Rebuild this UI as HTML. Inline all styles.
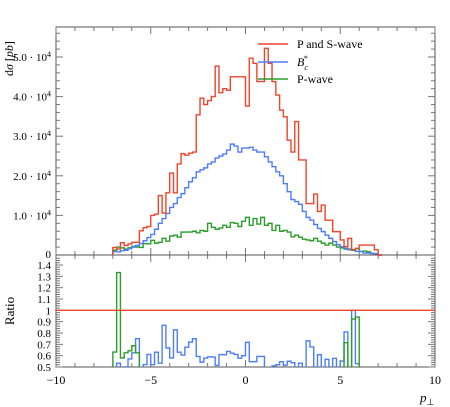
<!DOCTYPE html>
<html><head><meta charset="utf-8">
<style>
body{margin:0;background:#fff;width:450px;height:407px;overflow:hidden}
svg{display:block;font-family:"Liberation Serif",serif}
</style></head><body>
<svg id="c" width="450" height="407"></svg>
<script>
const bins=[-7.0,-6.8,-6.6,-6.4,-6.2,-6.0,-5.8,-5.6,-5.4,-5.2,-5.0,-4.8,-4.6,-4.4,-4.2,-4.0,-3.8,-3.6,-3.4,-3.2,-3.0,-2.8,-2.6,-2.4,-2.2,-2.0,-1.8,-1.6,-1.4,-1.2,-1.0,-0.8,-0.6,-0.4,-0.2,0.0,0.2,0.4,0.6,0.8,1.0,1.2,1.4,1.6,1.8,2.0,2.2,2.4,2.6,2.8,3.0,3.2,3.4,3.6,3.8,4.0,4.2,4.4,4.6,4.8,5.0,5.2,5.4,5.6,5.8,6.0,6.2,6.4,6.6,6.8,7.0];
const binWidth=0.2;
const redVals=[1.9,1.5,3.1,2.4,2.8,3.2,3.2,6.1,6.9,7.2,10,10.3,15,10.6,15.7,20.7,15.7,23,25.6,25.2,25.7,26,35.4,39.6,38,39,40,47.7,41,42,41.6,45,45,45,45,37.6,49.7,48.4,43.8,43.8,52.2,48.4,43.8,40.4,36.6,34.9,29,26,33.7,24,24,13,13,15.4,11,12.6,8.8,8.8,5.9,5.9,3.8,2.1,4.2,1.3,1.7,2.5,2.5,2.5,2.5,1.3,0];
const blueVals=[0.8,0.8,1.1,1.2,1.6,2.0,2.4,2.9,3.6,4.4,5.2,6.5,8.0,9.2,10.5,12,13,14.5,15.5,17,18.5,19.5,21,21.5,22,23,23.5,24.5,25,25.5,26.5,28,27.5,26,27,27,27.2,26.5,26,26,24.8,23.5,22.3,21,20,18,16,14,13.5,12.8,11,9.5,8.8,7.7,6.7,5.9,5.0,4.2,3.4,2.6,2.1,1.7,1.3,1.3,0.9,0.9,0.5,0.5,0.4,0.3,0];
const greenVals=[1.2,2.0,1.8,1.5,1.8,2.2,2.0,1.9,2.9,2.8,3.7,3.0,3.2,4.2,3.5,4.8,5.0,4.5,5.8,5.8,5.8,6.0,5.6,6.2,6.0,8.0,7.0,6.5,6.8,7.5,7.0,8.2,8.0,7.2,8.5,9.5,7.5,9.2,7.8,9.5,7.5,8.0,6.2,7.5,6.0,6.2,5.8,4.6,5.0,4.5,4.0,3.8,3.6,4.2,3.5,3.0,2.5,3.0,2.5,2.0,1.8,1.5,1.5,1.2,1.6,0.9,1.0,0.8,0.4,0.3,0];
const yTicks=[1,2,3,4,5];
const ratioTicks=[0.5,0.6,0.7,0.8,0.9,1,1.1,1.2,1.3,1.4];
const xTicks=[-10,-5,0,5,10];

const NS="http://www.w3.org/2000/svg";
const svg=document.getElementById('c');
const L=56,R=435,T=27,MB=255,RB=367;
const sx=v=>L+(v+10)/20*(R-L);
const sy=v=>MB-v*3.96;
const ry=r=>RB-(r-0.5)/0.1*11.33;
function mk(tag,attrs,parent){const e=document.createElementNS(NS,tag);for(const k in attrs)e.setAttribute(k,attrs[k]);(parent||svg).appendChild(e);return e;}

const f1=mk('rect',{x:L,y:T,width:R-L,height:MB-T,fill:'none',stroke:'#555','stroke-width':1});


const f2=mk('rect',{x:L,y:MB,width:R-L,height:RB-MB,fill:'none',stroke:'#555','stroke-width':1});



for(let v=-10;v<=10;v+=1){
  const x=sx(v),len=(v%5===0)?7:4;
  [[T,T+len],[MB,MB-len],[MB,MB+len],[RB,RB-len]].forEach(p=>{
    const t=mk('line',{x1:x,x2:x,y1:p[0],y2:p[1],stroke:'#777','stroke-width':1});
    
    
  });
}
xTicks.forEach(v=>{
  const t=mk('text',{x:sx(v),y:384,'font-size':12,'text-anchor':'middle',fill:'#000'});
  t.textContent=String(v).replace('-','−');
  
  
});
for(let v=0;v<=57;v+=2){
  const y=sy(v);
  if(y<T)break;
  const len=(v%10===0)?7:4;
  [[L,L+len],[R,R-len]].forEach(p=>{
    const t=mk('line',{x1:p[0],x2:p[1],y1:y,y2:y,stroke:'#777','stroke-width':1});
    
    
  });
}
yTicks.forEach(v=>{
  const t=mk('text',{x:51,y:sy(v*10)+4,'font-size':11,'text-anchor':'end',fill:'#000'});
  t.innerHTML=v+'.0 · 10<tspan dy="-4" font-size="8">4</tspan>';
  
  
});
const z=mk('text',{x:51,y:MB+3,'font-size':11,'text-anchor':'end'});z.textContent='0';


for(let k=0;k<=48;k++){
  const r=0.5+k*0.02;
  const y=ry(r),len=(k%5===0)?7:4;
  [[L,L+len],[R,R-len]].forEach(p=>{
    const t=mk('line',{x1:p[0],x2:p[1],y1:y,y2:y,stroke:'#777','stroke-width':1});
    
    
  });
}
ratioTicks.forEach(r=>{
  const t=mk('text',{x:51,y:ry(r)+4,'font-size':11,'text-anchor':'end'});
  t.textContent=(r===1)?'1':r.toFixed(1);
  
  
});

function hist(vals,fy,color,name,clip){
  let d='';
  bins.forEach((b,i)=>{
    let v=fy(vals[i]);
    const x0=sx(b),x1=sx(b+binWidth);
    d+=(i===0?'M'+x0+','+fy(0):'')+' L'+x0+','+v+' L'+x1+','+v;
  });
  const p=mk('path',{d:d,fill:'none',stroke:color,'stroke-width':1.4});
  if(clip)p.setAttribute('clip-path','url(#rclip)');
  
  
}
const defs=mk('defs',{});
const cp=mk('clipPath',{id:'rclip'},defs);
mk('rect',{x:L,y:MB,width:R-L,height:RB-MB},cp);

const base=mk('line',{x1:L,x2:R,y1:MB,y2:MB,stroke:'#555'});


hist(greenVals,sy,'#2a9d2a','p-wave-histogram');
hist(blueVals,sy,'#4d7dff','bc-star-histogram');
hist(redVals,sy,'#f0442a','p-and-s-wave-histogram');

const blueRatio=blueVals.map((v,i)=>redVals[i]>0?v/redVals[i]:0);
const greenRatio=greenVals.map((v,i)=>redVals[i]>0?v/redVals[i]:0);
hist(blueRatio,r=>r===0?RB+5:ry(Math.min(r,1.5)),'#4d7dff','bc-star-ratio',true);
hist(greenRatio,r=>r===0?RB+5:ry(Math.min(r,1.5)),'#2a9d2a','p-wave-ratio',true);
const one=mk('line',{x1:L,x2:R,y1:ry(1),y2:ry(1),stroke:'#f0442a','stroke-width':1.4});



[['P and S-wave','#f0442a',48],['B','#4d7dff',66],['P-wave','#2a9d2a',83]].forEach((e,i)=>{
  const g=mk('g',{});
  
  
  mk('line',{x1:258,x2:288,y1:e[2]-4,y2:e[2]-4,stroke:e[1],'stroke-width':1.4},g);
  const t=mk('text',{x:297,y:e[2],'font-size':12},g);
  if(i===1)t.innerHTML='<tspan font-style="italic">B</tspan><tspan dy="4" font-size="8" font-style="italic">c</tspan><tspan dx="-4" dy="-9" font-size="8">*</tspan>';
  else t.textContent=e[0];
});

const yl=mk('text',{x:0,y:0,'font-size':12,transform:'translate(13,76) rotate(-90)'});
yl.innerHTML='d<tspan font-style="italic">σ</tspan> [<tspan font-style="italic">pb</tspan>]';


const rl=mk('text',{x:0,y:0,'font-size':13,'text-anchor':'middle',transform:'translate(14,311) rotate(-90)'});
rl.textContent='Ratio';


const xl=mk('text',{x:420,y:402,'font-size':13,'font-style':'italic'});
xl.innerHTML='p<tspan dy="3" font-size="9" font-style="normal">⊥</tspan>';


</script>
</body></html>
